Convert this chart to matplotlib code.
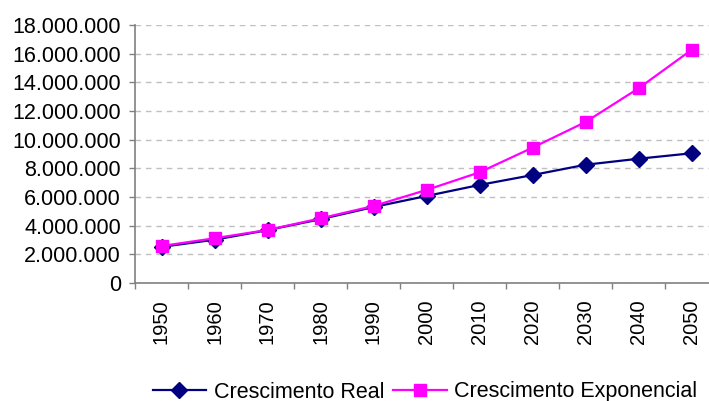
import matplotlib
matplotlib.use("Agg")
import matplotlib.pyplot as plt
from matplotlib.ticker import FuncFormatter, FixedLocator

years = ["1950", "1960", "1970", "1980", "1990", "2000", "2010", "2020", "2030", "2040", "2050"]
real = [2520000, 3020000, 3690000, 4450000, 5300000, 6070000, 6840000, 7530000, 8250000, 8670000, 9050000]
exponencial = [2580000, 3120000, 3700000, 4510000, 5370000, 6490000, 7720000, 9440000, 11230000, 13580000, 16260000]
yticks = [0, 2000000, 4000000, 6000000, 8000000, 10000000, 12000000, 14000000, 16000000, 18000000]

plt.rcParams['font.family'] = ['Liberation Sans', 'DejaVu Sans']

fig = plt.figure(figsize=(7.09, 4.01), dpi=100)
ax = fig.add_axes([135/709, (401-283)/401, (718-135)/709, (283-25)/401])

x = list(range(len(years)))
ax.plot(x, real, color='#000080', lw=1.6, marker='D', markersize=8,
        markerfacecolor='#000080', markeredgecolor='#000080', label='Crescimento Real', zorder=3)
ax.plot(x, exponencial, color='#FF00FF', lw=1.6, marker='s', markersize=8.5,
        markerfacecolor='#FF00FF', markeredgecolor='#FF00FF', label='Crescimento Exponencial', zorder=4)

ax.set_xlim(-0.5, len(years) - 0.5)
ax.set_ylim(0, 18000000)
ax.set_yticks(yticks)
ax.yaxis.set_major_formatter(FuncFormatter(lambda v, p: f"{int(v):,}".replace(",", ".")))
ax.set_xticks(x)
ax.set_xticklabels(years, rotation=90, ha='center', va='top')
ax.xaxis.set_minor_locator(FixedLocator([i - 0.5 for i in range(len(years) + 1)]))

ax.tick_params(axis='x', which='major', length=0, pad=12, labelsize=14.5)
ax.tick_params(axis='x', which='minor', length=4, width=1, color='#808080', direction='out')
ax.tick_params(axis='y', length=4, width=1, color='#808080', pad=6, labelsize=15.5)

for s in ['top', 'right']:
    ax.spines[s].set_visible(False)
for s in ['left', 'bottom']:
    ax.spines[s].set_color('#808080')
    ax.spines[s].set_linewidth(1.2)

ax.yaxis.grid(True, color='#c0c0c0', linestyle=(0, (4, 3.5)), linewidth=1.0)
ax.set_axisbelow(True)

fig.legend(loc='center', bbox_to_anchor=(425/709, (401-392)/401), ncol=2, frameon=False,
           fontsize=15.5, handlelength=2.5, handletextpad=0.35, columnspacing=0.4,
           borderaxespad=0, borderpad=0)

fig.savefig("out.png", dpi=100)
